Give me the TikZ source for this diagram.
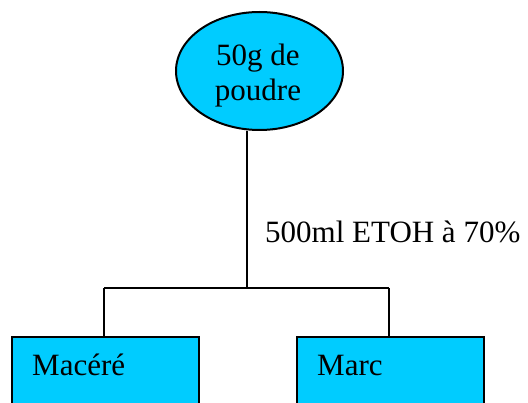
\documentclass[tikz,border=0pt]{standalone}
\usepackage{fontspec}
\setmainfont{Liberation Serif}
\usetikzlibrary{shapes.geometric}
\definecolor{boxcyan}{HTML}{00CCFF}
\tikzset{
  conn/.style={line width=2pt},
  bubble/.style={ellipse, draw, line width=2pt, fill=boxcyan, minimum width=167pt, minimum height=118pt, inner sep=0pt},
  leaf/.style={rectangle, draw, line width=2pt, fill=boxcyan, minimum width=187pt, minimum height=68pt, inner sep=0pt, anchor=north west},
  txt/.style={font=\fontsize{31}{35}\selectfont, inner sep=0pt},
}
\begin{document}
\begin{tikzpicture}[x=1pt,y=-1pt]
\useasboundingbox (0,0) rectangle (528,403);
\clip (0,0) rectangle (528,403);
\node[bubble] (e) at (259.5,71) {};
\node[txt, align=center] (et) at (258,76) {50g de\\poudre};
\node[leaf] (m1) at (11,336) {};
\node[leaf] (m2) at (296,336) {};
\node[txt, anchor=base west] (t1) at (32,376) {Macéré};
\node[txt, anchor=base west] (t2) at (317,376) {Marc};
\coordinate (j) at (247,288);
\coordinate (jl) at (104,288);
\coordinate (jr) at (389,288);
\draw[conn] (e.south -| j) -- (j);
\draw[conn] (jl) -- (jr);
\draw[conn] (jl) -- (m1.north -| jl);
\draw[conn] (jr) -- (m2.north -| jr);
\node[txt, anchor=base west] (lab) at (265,243) {500ml ETOH à 70\%};
\end{tikzpicture}
\end{document}
